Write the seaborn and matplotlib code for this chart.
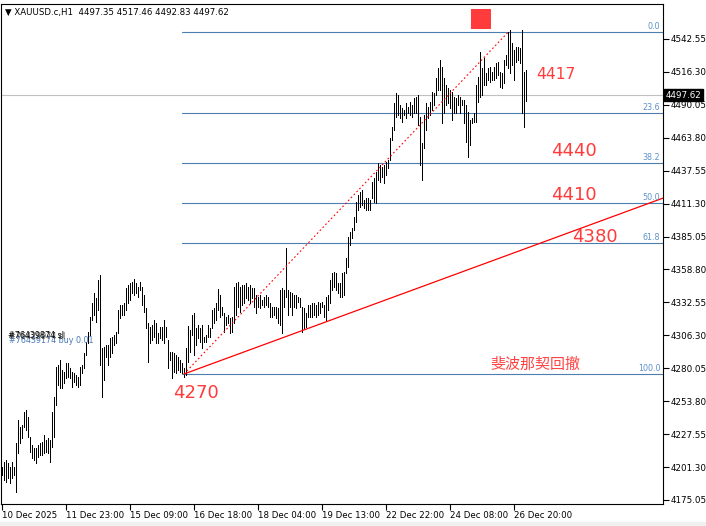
import matplotlib
matplotlib.use("Agg")
import matplotlib.pyplot as plt
import seaborn as sns
import numpy as np
import pandas as pd
from matplotlib.transforms import blended_transform_factory

sns.set_theme(style="white")
plt.rcParams['font.family'] = ['DejaVu Sans', 'Noto Sans CJK SC']

# ---------------- data (XAUUSD.c H1 bars) ----------------
highs = [
    4201.6, 4205.6, 4206.9, 4204.3, 4201.6, 4205.6, 4201.6, 4220.2, 4238.8, 4233.5,
    4234.8, 4245.5, 4246.8, 4241.5, 4225.5, 4218.9, 4216.2, 4216.2, 4218.9, 4220.2,
    4221.5, 4226.9, 4222.9, 4224.2, 4222.9, 4245.5, 4257.4, 4281.3, 4282.7, 4286.7,
    4278.7, 4277.4, 4284.0, 4284.0, 4280.0, 4277.4, 4276.0, 4274.7, 4273.4, 4281.3,
    4282.7, 4292.0, 4301.3, 4309.2, 4321.2, 4331.8, 4339.8, 4335.8, 4350.4, 4354.4,
    4295.9, 4297.3, 4298.6, 4298.6, 4303.9, 4305.3, 4306.6, 4309.2, 4326.5, 4330.5,
    4330.5, 4331.8, 4343.8, 4346.4, 4347.8, 4349.1, 4350.9, 4347.8, 4345.1, 4349.1,
    4345.1, 4338.5, 4327.8, 4315.9, 4313.2, 4314.5, 4318.5, 4315.9, 4307.9, 4313.2,
    4313.2, 4318.5, 4313.2, 4302.6, 4293.3, 4293.3, 4292.0, 4290.6, 4289.3, 4286.6,
    4284.0, 4280.0, 4295.9, 4313.7, 4310.6, 4322.5, 4323.8, 4311.9, 4314.5, 4311.9,
    4314.5, 4305.2, 4306.6, 4314.5, 4311.9, 4326.5, 4327.8, 4331.8, 4343.0, 4338.5,
    4329.2, 4323.8, 4321.2, 4322.5, 4319.9, 4321.2, 4345.1, 4347.8, 4349.1, 4345.1,
    4346.4, 4346.4, 4347.8, 4345.1, 4346.4, 4343.8, 4343.8, 4338.5, 4337.1, 4338.5,
    4334.5, 4337.1, 4338.5, 4337.1, 4331.8, 4329.2, 4329.2, 4329.2, 4327.8, 4342.4,
    4343.8, 4342.4, 4375.7, 4342.4, 4341.1, 4339.8, 4338.5, 4338.5, 4337.1, 4335.8,
    4329.2, 4327.8, 4323.8, 4330.5, 4330.5, 4331.8, 4331.8, 4330.5, 4333.2, 4331.8,
    4333.2, 4330.5, 4337.1, 4338.5, 4350.4, 4355.7, 4357.1, 4355.7, 4347.7, 4347.7,
    4355.7, 4357.1, 4367.7, 4385.0, 4389.0, 4391.6, 4400.9, 4412.9, 4418.2, 4420.8,
    4422.2, 4414.2, 4415.5, 4415.5, 4414.2, 4428.8, 4431.5, 4436.8, 4443.4, 4442.1,
    4440.8, 4442.1, 4444.8, 4446.1, 4463.4, 4472.7, 4491.3, 4499.2, 4497.9, 4489.9,
    4487.3, 4485.9, 4491.3, 4488.6, 4492.6, 4489.9, 4495.2, 4496.6, 4497.9, 4480.6,
    4459.4, 4482.0, 4491.3, 4488.6, 4492.6, 4500.6, 4499.2, 4511.2, 4519.2, 4525.8,
    4520.5, 4511.2, 4505.9, 4503.2, 4501.9, 4500.6, 4496.6, 4495.2, 4497.9, 4496.6,
    4493.9, 4493.9, 4489.9, 4484.6, 4478.0, 4479.3, 4483.3, 4505.9, 4512.5, 4532.5,
    4519.2, 4527.1, 4515.2, 4519.2, 4520.5, 4516.5, 4520.5, 4523.1, 4524.5, 4516.5,
    4515.2, 4525.8, 4529.8, 4548.4, 4549.7, 4539.1, 4533.8, 4536.4, 4536.4, 4535.1,
    4549.7, 4516.5, 4517.46,
]
lows = [
    4195.0, 4191.0, 4189.7, 4192.3, 4188.3, 4192.3, 4195.0, 4181.7, 4212.2, 4220.2,
    4224.2, 4233.5, 4230.9, 4225.5, 4213.6, 4208.3, 4206.9, 4204.3, 4209.6, 4210.9,
    4210.9, 4212.2, 4213.6, 4212.2, 4205.6, 4217.6, 4225.5, 4250.8, 4266.7, 4264.1,
    4264.1, 4268.1, 4272.0, 4273.4, 4272.0, 4265.4, 4269.4, 4266.7, 4265.4, 4266.7,
    4276.0, 4280.0, 4290.6, 4299.9, 4306.6, 4318.5, 4322.5, 4317.2, 4326.5, 4282.7,
    4257.4, 4270.7, 4289.3, 4282.7, 4289.3, 4292.0, 4298.6, 4299.9, 4307.9, 4319.9,
    4322.5, 4322.5, 4326.5, 4331.8, 4334.5, 4339.8, 4338.5, 4339.8, 4337.1, 4342.4,
    4330.5, 4325.2, 4311.9, 4285.3, 4299.9, 4302.6, 4305.2, 4299.9, 4299.9, 4303.9,
    4302.6, 4299.9, 4305.2, 4280.0, 4286.7, 4272.0, 4277.3, 4276.0, 4278.7, 4277.3,
    4276.0, 4273.4, 4274.7, 4285.3, 4293.3, 4306.6, 4290.6, 4298.6, 4303.9, 4301.3,
    4295.9, 4301.3, 4301.3, 4305.2, 4305.2, 4311.9, 4315.9, 4318.5, 4326.5, 4321.2,
    4322.5, 4309.2, 4314.5, 4315.9, 4307.9, 4309.2, 4315.9, 4322.5, 4329.2, 4325.2,
    4330.5, 4331.8, 4335.8, 4334.5, 4331.8, 4335.8, 4329.2, 4323.8, 4329.2, 4327.8,
    4330.5, 4329.2, 4330.5, 4329.2, 4321.2, 4321.2, 4322.5, 4319.9, 4315.9, 4314.5,
    4308.4, 4329.2, 4337.1, 4322.5, 4329.2, 4322.5, 4329.2, 4327.8, 4333.2, 4329.2,
    4309.2, 4311.9, 4313.2, 4321.2, 4321.2, 4321.2, 4322.5, 4321.2, 4322.5, 4323.8,
    4329.2, 4321.2, 4318.5, 4326.5, 4331.8, 4342.4, 4345.1, 4342.4, 4339.8, 4337.1,
    4337.1, 4338.5, 4355.7, 4361.0, 4378.3, 4383.6, 4390.3, 4396.9, 4406.2, 4408.9,
    4410.2, 4407.6, 4406.2, 4406.2, 4406.2, 4415.5, 4412.9, 4411.5, 4430.1, 4428.8,
    4432.8, 4427.5, 4434.1, 4439.4, 4446.1, 4462.0, 4470.0, 4480.6, 4482.0, 4479.3,
    4476.6, 4482.0, 4479.3, 4483.3, 4482.0, 4480.6, 4483.3, 4483.3, 4474.0, 4442.1,
    4430.1, 4455.4, 4470.0, 4479.3, 4482.0, 4485.9, 4489.9, 4497.9, 4501.9, 4501.9,
    4475.3, 4483.3, 4489.9, 4491.3, 4487.3, 4478.0, 4483.3, 4483.3, 4489.9, 4483.3,
    4489.9, 4475.3, 4460.7, 4448.7, 4458.1, 4475.3, 4476.6, 4476.6, 4492.6, 4496.6,
    4497.9, 4505.9, 4505.9, 4509.9, 4508.5, 4509.9, 4509.9, 4511.2, 4513.8, 4504.5,
    4503.2, 4507.2, 4521.8, 4519.2, 4515.2, 4521.8, 4509.9, 4524.5, 4525.8, 4523.1,
    4483.3, 4472.7, 4492.83,
]
last_ohlc = [4497.35, 4517.46, 4492.83, 4497.62]
current_price = 4497.62

y_ticks = [4175.05, 4201.30, 4227.55, 4253.80, 4280.05, 4306.30, 4332.55, 4358.80,
           4385.05, 4411.30, 4437.55, 4463.80, 4490.05, 4516.30, 4542.55]
x_tick_bars = [0, 32, 64, 96, 128, 160, 192, 224, 256]
x_tick_labels = ["10 Dec 2025", "11 Dec 23:00", "15 Dec 09:00", "16 Dec 18:00",
                 "18 Dec 04:00", "19 Dec 13:00", "22 Dec 22:00", "24 Dec 08:00",
                 "26 Dec 20:00"]

# Fibonacci retracement anchors
fib_start_bar = 90
fib_low_bar, fib_low = 91, 4275.5
fib_high_bar, fib_high = 253, 4547.9
fib_levels = [0.0, 23.6, 38.2, 50.0, 61.8, 100.0]
fib_labels = ["0.0", "23.6", "38.2", "50.0", "61.8", "100.0"]

# trend line anchors
trend_bars = [91, 331]
trend_prices = [4275.5, 4416.0]

# annotations
notes = [("4417", 267, 4514.6, 11.2), ("4440", 274.5, 4453.3, 13),
         ("4410", 274.5, 4418.2, 13), ("4380", 285, 4384.7, 13),
         ("4270", 85.5, 4260.3, 13)]
marker_bar, marker_price = 239.5, 4558.5

# ---------------- figure ----------------
W, H = 706, 526
fig = plt.figure(figsize=(W / 100, H / 100), dpi=100)
fig.patch.set_facecolor("white")
ax = fig.add_axes([1 / W, 1 - 504 / H, 662 / W, 500 / H])
ax.set_facecolor("white")

bars = np.arange(len(highs))
df = pd.DataFrame({"bar": bars, "high": highs, "low": lows})

ax.set_xlim(-0.5, 330.5)
ax.set_ylim(4171.85, 4570.45)

# current price line
ax.axhline(current_price, color="#c0c0c0", lw=0.8, zorder=1)

# fib level lines
span = fib_high - fib_low
for lv, lb in zip(fib_levels, fib_labels):
    price = fib_high - span * lv / 100.0
    ax.plot([fib_start_bar, 331], [price, price], color="#4a7fb0", lw=0.8, zorder=2)
    ax.text(329.2, price + 0.8, lb, ha="right", va="bottom", fontsize=5.8,
            color="#5e93cc", zorder=5)

# price bars (1 px wide)
ax.vlines(df["bar"], df["low"], df["high"], colors="black", linewidth=0.6,
          antialiased=False, zorder=3)

# dashed fib base line
base = pd.DataFrame({"bar": [fib_low_bar, fib_high_bar], "price": [fib_low, fib_high]})
sns.lineplot(data=base, x="bar", y="price", ax=ax, color="#ff0000", lw=0.8,
             dashes=False, zorder=4)
ax.lines[-1].set_dashes((1.5, 2.2))

# trend line
trend = pd.DataFrame({"bar": trend_bars, "price": trend_prices})
sns.lineplot(data=trend, x="bar", y="price", ax=ax, color="#ff0000", lw=0.9, zorder=4)

# red square marker
sns.scatterplot(x=[marker_bar], y=[marker_price], ax=ax, marker="s", s=14.4 ** 2,
                color="#ff3b3b", edgecolor="none", zorder=6, clip_on=False)

for txt, bx, py, fs in notes:
    ax.text(bx, py, txt, color="#ff3b3b", fontsize=fs, ha="left", va="center", zorder=6)
ax.text(244, 4282.6, "斐波那契回撤", color="#ff4444", fontsize=10.8, ha="left",
        va="center", family=["Noto Sans CJK SC", "DejaVu Sans"], zorder=6)

# order labels (overlapping, as in the terminal)
ax.text(3.5, 4302.2, "#76439174 buy 0.01", color="#4a78b8", fontsize=5.8, ha="left",
        va="center", zorder=6)
ax.text(3, 4305.8, "#76439874 sl", color="black", fontsize=5.8, ha="left",
        va="center", zorder=6)
ax.text(3.4, 4305.0, "#76429974 sl", color="#222222", fontsize=5.8, ha="left",
        va="center", zorder=6, alpha=0.8)

# axes / ticks
ax.yaxis.tick_right()
ax.set_yticks(y_ticks)
ax.set_yticklabels([f"{v:.2f}" for v in y_ticks])
ax.set_xticks(x_tick_bars)
ax.set_xticklabels(x_tick_labels)
for lbl in ax.get_xticklabels():
    lbl.set_ha("left")
ax.tick_params(axis="y", which="both", right=True, left=False, length=4, width=0.8,
               labelsize=6.3, pad=1.5, colors="black", direction="out")
ax.tick_params(axis="x", which="both", bottom=True, length=4, width=0.8,
               labelsize=6.2, pad=1, colors="black", direction="out")
ax.set_xlabel("")
ax.set_ylabel("")
for sp in ax.spines.values():
    sp.set_visible(True)
    sp.set_color("black")
    sp.set_linewidth(0.8)
if ax.get_legend():
    ax.get_legend().remove()

# current price tag
tr = blended_transform_factory(ax.transAxes, ax.transData)
ax.text(1.004, current_price, f"{current_price:.2f}", transform=tr, color="white",
        fontsize=6.3, ha="left", va="center", zorder=7, clip_on=False,
        bbox=dict(boxstyle="square,pad=0.18", fc="black", ec="black"))

# header
fig.text(5 / W, 1 - 12 / H,
         "▼ XAUUSD.c,H1  " + " ".join(f"{v:.2f}" for v in last_ohlc),
         fontsize=6.2, color="black", ha="left", va="center")

# bottom window strip
fig.patches.append(plt.Rectangle((0, 0), 1, 4 / H, transform=fig.transFigure,
                                 color="#f0f0f0", zorder=0))

fig.savefig("out.png", dpi=100)
